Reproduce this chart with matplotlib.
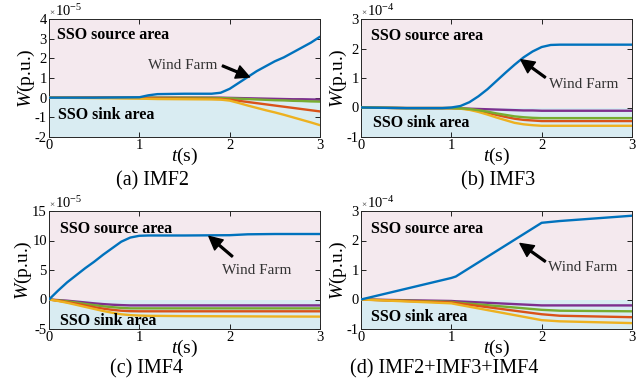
import matplotlib
matplotlib.use("Agg")
import matplotlib.pyplot as plt
from matplotlib.transforms import offset_copy

plt.rcParams["font.family"] = ["Liberation Serif", "DejaVu Serif"]
plt.rcParams["mathtext.fontset"] = "custom"
plt.rcParams["mathtext.rm"] = "Liberation Serif"
plt.rcParams["mathtext.it"] = "Liberation Serif:italic"
plt.rcParams["mathtext.bf"] = "Liberation Serif:bold"
plt.rcParams["axes.unicode_minus"] = False

# ---------------- data ----------------
# (a) IMF2, units of 1e-5 p.u.
t_a = [0, 0.5, 1.0, 1.1, 1.2, 1.5, 1.8, 1.9, 2.0, 2.1, 2.2, 2.3, 2.4, 2.5,
       2.6, 2.7, 2.8, 2.9, 3.0]
wind_a = [0, 0, 0.02, 0.12, 0.18, 0.2, 0.2, 0.25, 0.45, 0.75, 1.05, 1.35,
          1.6, 1.85, 2.05, 2.3, 2.55, 2.8, 3.1]
purple_a = [0, 0, 0, 0, 0, 0, 0, 0, -0.01, -0.02, -0.03, -0.04, -0.05,
            -0.06, -0.07, -0.08, -0.08, -0.09, -0.1]
green_a = [0, 0, 0, 0, 0, 0, -0.01, -0.02, -0.03, -0.05, -0.07, -0.09,
           -0.11, -0.13, -0.14, -0.16, -0.17, -0.19, -0.2]
red_a = [0, 0, -0.02, -0.03, -0.04, -0.05, -0.06, -0.07, -0.1, -0.16,
         -0.22, -0.28, -0.34, -0.4, -0.46, -0.52, -0.58, -0.64, -0.7]
yellow_a = [0, -0.02, -0.05, -0.06, -0.07, -0.08, -0.09, -0.1, -0.15,
            -0.27, -0.4, -0.52, -0.64, -0.75, -0.87, -1.0, -1.13, -1.26, -1.4]

# (b) IMF3, units of 1e-4 p.u.
t_b = [0, 0.5, 0.9, 1.0, 1.1, 1.2, 1.3, 1.4, 1.5, 1.6, 1.7, 1.8, 1.9, 2.0,
       2.1, 2.2, 2.5, 3.0]
wind_b = [0, -0.02, -0.02, 0, 0.05, 0.18, 0.38, 0.62, 0.9, 1.18, 1.45, 1.7,
          1.9, 2.05, 2.12, 2.13, 2.13, 2.13]
purple_b = [0, -0.02, -0.02, -0.02, -0.03, -0.04, -0.05, -0.06, -0.07,
            -0.08, -0.09, -0.1, -0.1, -0.11, -0.11, -0.11, -0.11, -0.11]
green_b = [0, -0.02, -0.02, -0.02, -0.03, -0.05, -0.09, -0.14, -0.2, -0.25,
           -0.3, -0.33, -0.35, -0.36, -0.36, -0.36, -0.36, -0.36]
red_b = [0, -0.02, -0.02, -0.02, -0.03, -0.06, -0.11, -0.18, -0.25, -0.32,
         -0.38, -0.42, -0.44, -0.46, -0.46, -0.46, -0.46, -0.46]
yellow_b = [0, -0.02, -0.02, -0.02, -0.04, -0.08, -0.15, -0.24, -0.34,
            -0.43, -0.52, -0.57, -0.6, -0.62, -0.62, -0.62, -0.62, -0.62]

# (c) IMF4, units of 1e-5 p.u.
t_c = [0, 0.1, 0.2, 0.3, 0.4, 0.5, 0.6, 0.7, 0.8, 0.9, 1.0, 1.1, 1.5, 2.0,
       2.2, 2.5, 3.0]
wind_c = [0, 1.5, 2.9, 4.1, 5.3, 6.4, 7.6, 8.7, 9.8, 10.5, 10.8, 10.85,
          10.85, 10.9, 11.05, 11.1, 11.1]
purple_c = [0, -0.1, -0.2, -0.35, -0.5, -0.65, -0.78, -0.88, -0.95, -1.0,
            -1.0, -1.0, -1.0, -1.0, -1.0, -1.0, -1.0]
green_c = [0, -0.15, -0.3, -0.5, -0.75, -0.95, -1.15, -1.3, -1.42, -1.5,
           -1.5, -1.5, -1.5, -1.5, -1.5, -1.5, -1.5]
red_c = [0, -0.2, -0.45, -0.7, -1.0, -1.3, -1.55, -1.75, -1.9, -1.98,
         -2.0, -2.0, -2.0, -2.0, -2.0, -2.0, -2.0]
yellow_c = [0, -0.25, -0.55, -0.9, -1.25, -1.6, -1.95, -2.25, -2.5, -2.65,
            -2.72, -2.76, -2.82, -2.85, -2.86, -2.88, -2.9]

# (d) IMF2+IMF3+IMF4, units of 1e-4 p.u.
t_d = [0, 1.0, 1.05, 2.0, 2.2, 3.0]
wind_d = [0, 0.73, 0.78, 2.6, 2.66, 2.84]
purple_d = [0, -0.05, -0.06, -0.2, -0.2, -0.2]
green_d = [0, -0.08, -0.1, -0.35, -0.38, -0.4]
red_d = [0, -0.1, -0.12, -0.5, -0.55, -0.6]
yellow_d = [0, -0.13, -0.16, -0.7, -0.74, -0.8]

x_ticks = [0, 1, 2, 3]
panel_titles = ["(a) IMF2", "(b) IMF3", "(c) IMF4", "(d) IMF2+IMF3+IMF4"]

# ---------------- styling ----------------
C_BLUE = "#0072BD"
C_RED = "#D95319"
C_YELLOW = "#EDB120"
C_PURPLE = "#7E2F8E"
C_GREEN = "#77AC30"
SOURCE_BG = "#f4e9ee"
SINK_BG = "#d9ecf2"

W, H = 637, 385
fig = plt.figure(figsize=(W / 100, H / 100), dpi=100)


def px_axes(left, top, right, bottom):
    return fig.add_axes([left / W, 1 - bottom / H, (right - left) / W,
                         (bottom - top) / H])


panels = [
    dict(box=(49, 19, 320, 137), t=t_a,
         series=[(purple_a, C_PURPLE), (green_a, C_GREEN), (red_a, C_RED),
                 (yellow_a, C_YELLOW), (wind_a, C_BLUE)],
         ylim=(-2, 4), yticks=[-2, -1, 0, 1, 2, 3, 4], exp="-5",
         src=(0.09, 3.18), snk=(0.1, -0.88),
         arrow_head=(2.22, 1.05), arrow_tail=(1.92, 1.62),
         arrow_text=(1.1, 1.66),
         title_xy=(153, 181)),
    dict(box=(361, 19, 632, 137), t=t_b,
         series=[(purple_b, C_PURPLE), (red_b, C_RED), (yellow_b, C_YELLOW),
                 (green_b, C_GREEN), (wind_b, C_BLUE)],
         ylim=(-1, 3), yticks=[-1, 0, 1, 2, 3], exp="-4",
         src=(0.11, 2.42), snk=(0.13, -0.54),
         arrow_head=(1.77, 1.62), arrow_tail=(2.04, 1.02),
         arrow_text=(2.08, 0.77),
         title_xy=(498, 181)),
    dict(box=(49, 211, 320, 329), t=t_c,
         series=[(purple_c, C_PURPLE), (green_c, C_GREEN), (red_c, C_RED),
                 (yellow_c, C_YELLOW), (wind_c, C_BLUE)],
         ylim=(-5, 15), yticks=[-5, 0, 5, 10, 15], exp="-5",
         src=(0.12, 12.0), snk=(0.12, -3.7),
         arrow_head=(1.77, 10.7), arrow_tail=(2.03, 7.3),
         arrow_text=(1.92, 4.9),
         title_xy=(146, 369)),
    dict(box=(361, 211, 632, 329), t=t_d,
         series=[(purple_d, C_PURPLE), (green_d, C_GREEN), (red_d, C_RED),
                 (yellow_d, C_YELLOW), (wind_d, C_BLUE)],
         ylim=(-1, 3), yticks=[-1, 0, 1, 2, 3], exp="-4",
         src=(0.11, 2.4), snk=(0.11, -0.58),
         arrow_head=(1.76, 1.9), arrow_tail=(2.04, 1.29),
         arrow_text=(2.07, 1.08),
         title_xy=(444, 369)),
]

for p, title in zip(panels, panel_titles):
    ax = px_axes(*p["box"])
    lo, hi = p["ylim"]
    ax.set_xlim(0, 3)
    ax.set_ylim(lo, hi)
    ax.axhspan(0, hi, color=SOURCE_BG, zorder=0, lw=0)
    ax.axhspan(lo, 0, color=SINK_BG, zorder=0, lw=0)
    for vals, col in p["series"]:
        ax.plot(p["t"], vals, color=col, lw=1.7, zorder=3,
                solid_capstyle="round")

    ax.set_xticks(x_ticks)
    ax.set_xticklabels([str(v) for v in x_ticks])
    ax.set_yticks(p["yticks"])
    ax.set_yticklabels([str(v) for v in p["yticks"]])
    ax.tick_params(direction="in", top=True, right=True, length=3.5,
                   width=0.6, labelsize=10.5, pad=1.5, colors="black")
    for s in ax.spines.values():
        s.set_linewidth(0.7)
        s.set_color("#262626")

    ax.set_xlabel(r"$t$(s)", fontsize=14, labelpad=-4.5)
    ax.set_ylabel(r"$W$(p.u.)", fontsize=14, labelpad=-1.5)

    # scale factor written above the y axis
    ax.text(0.0, 1.0, "\u00d7", transform=offset_copy(ax.transAxes, fig,
            x=0.5, y=1.5, units="points"), fontsize=6.5, ha="left",
            va="bottom", color="#262626")
    ax.text(0.0, 1.0, r"$\mathregular{10^{%s}}$" % p["exp"],
            transform=offset_copy(ax.transAxes, fig, x=4, y=0,
                                  units="points"),
            fontsize=10.5, ha="left", va="bottom")

    ax.text(*p["src"], "SSO source area", fontsize=11.5, fontweight="bold",
            ha="left", va="center", zorder=4)
    ax.text(*p["snk"], "SSO sink area", fontsize=11.5, fontweight="bold",
            ha="left", va="center", zorder=4)

    arrow_kw = dict(facecolor="black", edgecolor="black", width=1.3,
                    headwidth=9.5, headlength=9.5, shrink=0)
    ax.annotate("", xy=p["arrow_head"], xytext=p["arrow_tail"],
                arrowprops=arrow_kw, zorder=5)
    ax.text(*p["arrow_text"], "Wind Farm", fontsize=11, ha="left",
            va="center", color="#333333", zorder=5)

    fig.text(p["title_xy"][0] / W, 1 - p["title_xy"][1] / H, title,
             fontsize=14.5, ha="center", va="center")

fig.savefig("out.png", dpi=100)
